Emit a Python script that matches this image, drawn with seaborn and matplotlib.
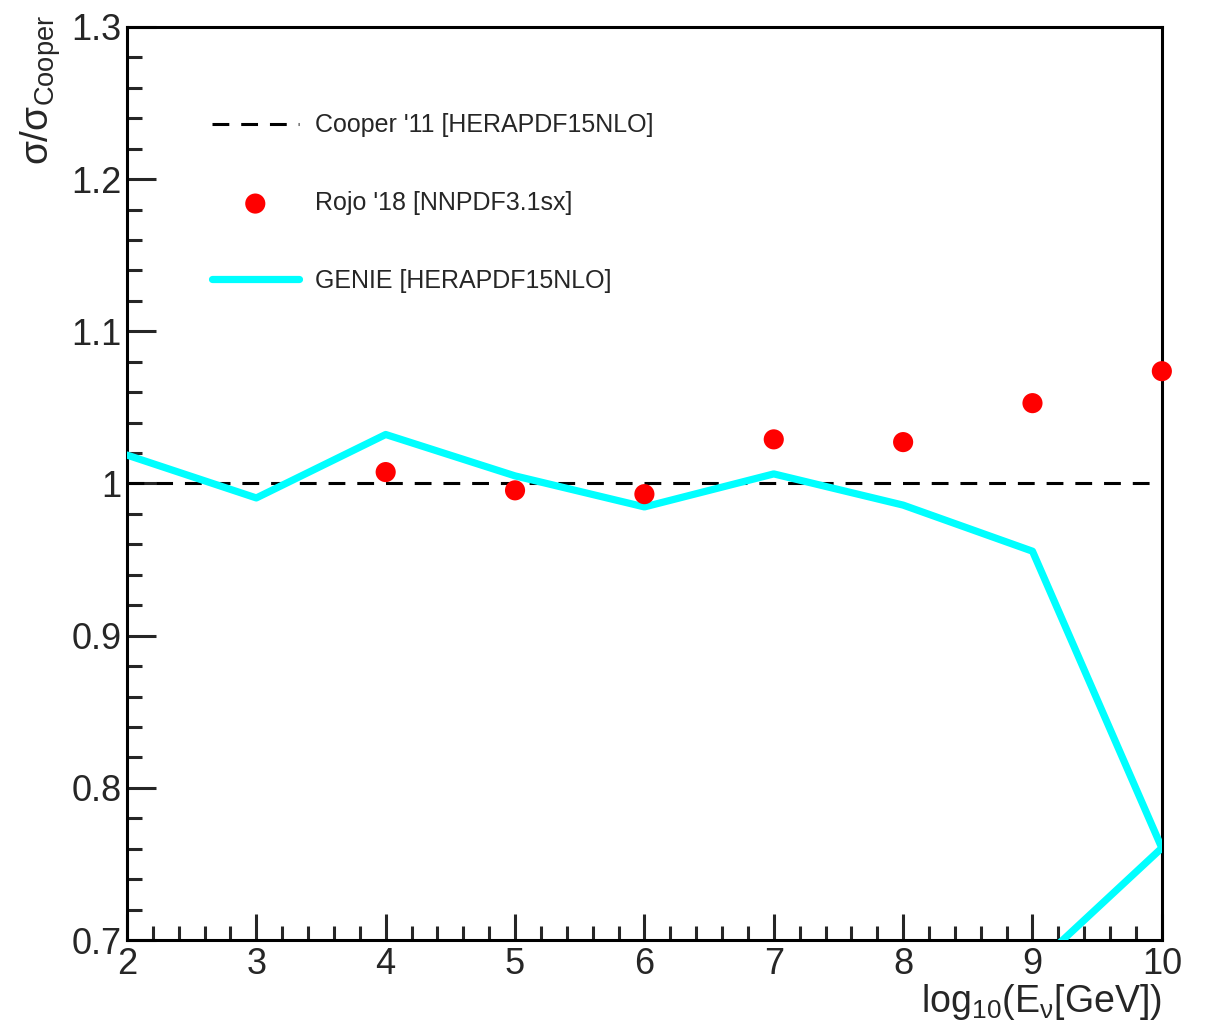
import numpy as np
import pandas as pd
import seaborn as sns
import matplotlib.pyplot as plt
from matplotlib.ticker import MultipleLocator

# valeurs
log_e = [2, 3, 4, 5, 6, 7, 8, 9, 10]
cooper = [1.0, 1.0, 1.0, 1.0, 1.0, 1.0, 1.0, 1.0, 1.0]
rojo_x = [4, 5, 6, 7, 8, 9, 10]
rojo = [1.0075, 0.9955, 0.9930, 1.0290, 1.0272, 1.0528, 1.0738]
# la courbe GENIE revient vers la gauche apres x=10 (sortie du cadre)
genie_x = [2, 3, 4, 5, 6, 7, 8, 9, 10, 9]
genie = [1.0187, 0.9905, 1.0322, 1.0050, 0.9846, 1.0063, 0.9858, 0.9555, 0.7605, 0.6815]

labels = ["Cooper '11 [HERAPDF15NLO]", "Rojo '18 [NNPDF3.1sx]", "GENIE [HERAPDF15NLO]"]

sns.set_style("ticks")
plt.rcParams['font.family'] = ['Liberation Sans', 'DejaVu Sans']
plt.rcParams['mathtext.fontset'] = 'custom'
plt.rcParams['mathtext.rm'] = 'Liberation Sans'
plt.rcParams['mathtext.it'] = 'Liberation Sans'
plt.rcParams['mathtext.default'] = 'regular'

fig = plt.figure(figsize=(12.09, 10.25), dpi=100)
ax = fig.add_axes([0.105, 0.0829, 0.856, 0.8908])

df_c = pd.DataFrame({"x": log_e, "y": cooper})
df_r = pd.DataFrame({"x": rojo_x, "y": rojo})
df_g = pd.DataFrame({"x": genie_x, "y": genie})

sns.lineplot(data=df_c, x="x", y="y", ax=ax, color="black", lw=2.2,
             linestyle=(0, (5.5, 3.9)), label=labels[0], zorder=2)
sns.scatterplot(data=df_r, x="x", y="y", ax=ax, color="#ff0000", s=210,
                edgecolor="none", label=labels[1], zorder=4, clip_on=False)
sns.lineplot(data=df_g, x="x", y="y", ax=ax, color="#00ffff", lw=5.2,
             sort=False, estimator=None, label=labels[2], zorder=3)

ax.set_xlim(2, 10)
ax.set_ylim(0.7, 1.3)
ax.xaxis.set_major_locator(MultipleLocator(1))
ax.xaxis.set_minor_locator(MultipleLocator(0.2))
ax.yaxis.set_major_locator(MultipleLocator(0.1))
ax.yaxis.set_minor_locator(MultipleLocator(0.02))
ax.set_yticks([0.7, 0.8, 0.9, 1.0, 1.1, 1.2, 1.3])
ax.set_yticklabels(["0.7", "0.8", "0.9", "1", "1.1", "1.2", "1.3"])

for s in ax.spines.values():
    s.set_visible(True)
    s.set_linewidth(2.2)
    s.set_color("black")

ax.tick_params(axis="both", which="both", direction="in", width=2.2,
               top=False, right=False, labelsize=26)
ax.tick_params(axis="y", which="major", length=21, pad=4)
ax.tick_params(axis="y", which="minor", length=11)
ax.tick_params(axis="x", which="major", length=19, pad=5)
ax.tick_params(axis="x", which="minor", length=10)

ax.set_xlabel(r"log$_{10}$(E$_{\nu}$[GeV])", fontsize=27, loc="right")
ax.xaxis.set_label_coords(1.0, -0.046)
ax.set_ylabel(r"$\sigma/\sigma_{Cooper}$", fontsize=28, loc="top")
ax.yaxis.set_label_coords(-0.062, 1.013)

leg = ax.legend(loc="upper left", bbox_to_anchor=(0.06, 0.93), frameon=False,
                fontsize=18, handlelength=3.5, handletextpad=0.65,
                labelspacing=2.15, markerscale=1.0)

plt.savefig("out.png", dpi=100)
